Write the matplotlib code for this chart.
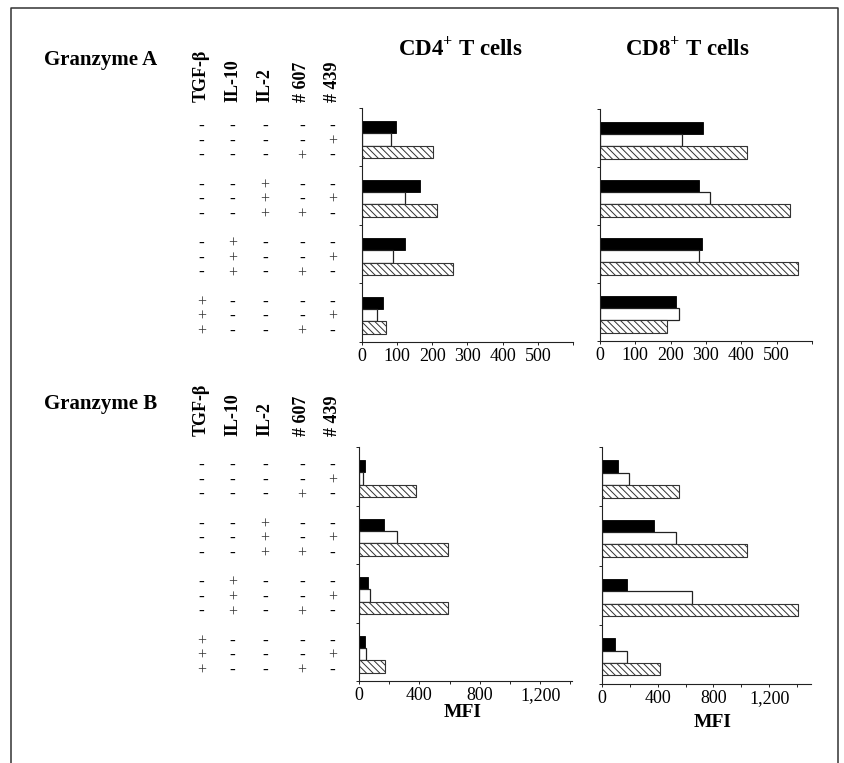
import numpy as np
import matplotlib.pyplot as plt
from matplotlib.lines import Line2D
from matplotlib.transforms import blended_transform_factory

plt.rcParams['font.family'] = ['Liberation Serif', 'DejaVu Serif']
plt.rcParams['mathtext.fontset'] = 'custom'
plt.rcParams['mathtext.rm'] = 'Liberation Serif:bold'
plt.rcParams['mathtext.bf'] = 'Liberation Serif:bold'
plt.rcParams['hatch.linewidth'] = 0.7

# column headers of the condition table
cond_names = ['TGF-β', 'IL-10', 'IL-2', '# 607', '# 439']
# one string per bar (3 bars per group): TGF-b, IL-10, IL-2, #607, #439
cond_rows = [
    '-----', '----+', '---+-',
    '--+--', '--+-+', '--++-',
    '-+---', '-+--+', '-+-+-',
    '+----', '+---+', '+--+-',
]

# MFI values, one per group (top to bottom)
gzmA_cd4_black = [98, 164, 122, 59]
gzmA_cd4_white = [82, 122, 89, 44]
gzmA_cd4_hatch = [202, 214, 259, 67]
gzmA_cd8_black = [291, 280, 288, 215]
gzmA_cd8_white = [232, 310, 280, 225]
gzmA_cd8_hatch = [417, 538, 559, 191]

gzmB_cd4_black = [39, 164, 57, 42]
gzmB_cd4_white = [28, 254, 72, 44]
gzmB_cd4_hatch = [379, 592, 590, 171]
gzmB_cd8_black = [117, 376, 182, 93]
gzmB_cd8_white = [196, 529, 649, 182]
gzmB_cd8_hatch = [556, 1042, 1406, 417]

ticks_a = [0, 100, 200, 300, 400, 500, 600]
labels_a = ['0', '100', '200', '300', '400', '500', '']
ticks_b = [0, 200, 400, 600, 800, 1000, 1200, 1400]
labels_b = ['0', '', '400', '', '800', '', '1,200', '']

W, H = 845, 763
fig = plt.figure(figsize=(W / 100, H / 100), dpi=100)


def px_axes(left, right, top, bottom):
    return fig.add_axes([left / W, 1 - bottom / H, (right - left) / W, (bottom - top) / H])


def draw_panel(ax, black, white, hatch, xmax, ticks, labels):
    g = np.arange(len(black))
    ax.barh(g + 0.33, black, height=0.21, color='black', edgecolor='black', lw=0.6)
    ax.barh(g + 0.54, white, height=0.21, color='white', edgecolor='#222222', lw=0.9)
    ax.barh(g + 0.75, hatch, height=0.21, color='white', edgecolor='#333333',
            hatch='\\\\\\\\\\', lw=0.8)
    ax.set_ylim(len(black), 0)
    ax.set_xlim(0, xmax)
    ax.set_yticks(np.arange(len(black) + 1))
    ax.set_yticklabels([])
    ax.set_xticks(ticks)
    ax.set_xticklabels(labels, fontsize=13)
    for s in ['top', 'right']:
        ax.spines[s].set_visible(False)
    for s in ['left', 'bottom']:
        ax.spines[s].set_linewidth(0.8)
        ax.spines[s].set_color('#222222')
    ax.tick_params(axis='both', direction='out', length=2.5, width=0.7, color='#222222', pad=1.8)


def draw_table(ax, header_bottom):
    col_x = [201.5, 232.5, 265, 302, 332.5]
    for x, name in zip(col_x, cond_names):
        fig.text(x / W, 1 - header_bottom / H, name, rotation=90, ha='center', va='bottom',
                 fontsize=13, fontweight='bold')
    tr = blended_transform_factory(fig.transFigure, ax.transData)
    offs = [0.29, 0.54, 0.79]
    for i, row in enumerate(cond_rows):
        y = i // 3 + offs[i % 3]
        for x, c in zip(col_x, row):
            if c == '+':
                fig.text(x / W, y, '+', transform=tr, ha='center', va='center_baseline',
                         fontsize=11.5, color='#333333')
            else:
                fig.text(x / W, y, '-', transform=tr, ha='center', va='center_baseline',
                         fontsize=12.5, fontweight='bold')


ax1 = px_axes(362, 573, 108, 342)
ax2 = px_axes(600, 812, 109, 341)
ax3 = px_axes(359, 572, 447, 681)
ax4 = px_axes(602, 811, 447, 684)

draw_panel(ax1, gzmA_cd4_black, gzmA_cd4_white, gzmA_cd4_hatch, 600, ticks_a, labels_a)
draw_panel(ax2, gzmA_cd8_black, gzmA_cd8_white, gzmA_cd8_hatch, 600, ticks_a, labels_a)
draw_panel(ax3, gzmB_cd4_black, gzmB_cd4_white, gzmB_cd4_hatch, 1410, ticks_b, labels_b)
draw_panel(ax4, gzmB_cd8_black, gzmB_cd8_white, gzmB_cd8_hatch, 1500, ticks_b, labels_b)

draw_table(ax1, 101.5)
draw_table(ax3, 436.5)

fig.text(44 / W, 1 - 65.5 / H, 'Granzyme A', ha='left', va='baseline', fontsize=15, fontweight='bold')
fig.text(44 / W, 1 - 409 / H, 'Granzyme B', ha='left', va='baseline', fontsize=15, fontweight='bold')
fig.text(460 / W, 1 - 56.5 / H, r'CD4$^{+}$ T cells', ha='center', va='baseline', fontsize=16.5,
         fontweight='bold')
fig.text(687 / W, 1 - 56.5 / H, r'CD8$^{+}$ T cells', ha='center', va='baseline', fontsize=16.5,
         fontweight='bold')
fig.text(463 / W, 1 - 717 / H, 'MFI', ha='center', va='baseline', fontsize=14, fontweight='bold')
fig.text(713 / W, 1 - 727 / H, 'MFI', ha='center', va='baseline', fontsize=14, fontweight='bold')

# outer frame: left, top and right edges only (bottom lies outside the picture)
fx0, fx1, fy1 = 11 / W, 838 / W, 1 - 8 / H
fig.lines.append(Line2D([fx0, fx0, fx1, fx1], [0, fy1, fy1, 0], transform=fig.transFigure,
                        lw=1.1, color='#333333'))

fig.savefig('out.png', dpi=100)
